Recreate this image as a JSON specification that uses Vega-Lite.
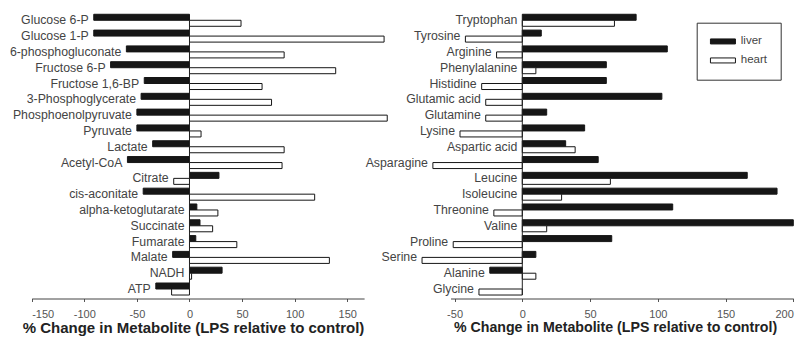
{
  "$schema": "https://vega.github.io/schema/vega-lite/v6.json",
  "width": 803,
  "height": 298.5,
  "autosize": {"type": "none"},
  "padding": {"left": 0, "top": 0, "right": 0, "bottom": 39.5},
  "background": "white",
  "config": {
    "view": {"stroke": null},
    "font": "Liberation Sans",
    "axis": {
      "grid": false,
      "domainColor": "#444",
      "tickColor": "#555",
      "tickSize": 3,
      "labelFont": "Liberation Sans",
      "labelFontSize": 11,
      "labelColor": "#555",
      "labelPadding": 7,
      "labelExpr": "replace(datum.label, '\u2212', '-')",
      "titleFont": "Liberation Sans",
      "titleFontWeight": "bold",
      "titleColor": "#222",
      "titlePadding": 1
    }
  },
  "datasets": {
    "central_metabolism": [
      {"metabolite": "Glucose 6-P", "tissue": "liver", "change": -91},
      {"metabolite": "Glucose 6-P", "tissue": "heart", "change": 49},
      {"metabolite": "Glucose 1-P", "tissue": "liver", "change": -91},
      {"metabolite": "Glucose 1-P", "tissue": "heart", "change": 185},
      {"metabolite": "6-phosphogluconate", "tissue": "liver", "change": -60},
      {"metabolite": "6-phosphogluconate", "tissue": "heart", "change": 90},
      {"metabolite": "Fructose 6-P", "tissue": "liver", "change": -75},
      {"metabolite": "Fructose 6-P", "tissue": "heart", "change": 139},
      {"metabolite": "Fructose 1,6-BP", "tissue": "liver", "change": -43},
      {"metabolite": "Fructose 1,6-BP", "tissue": "heart", "change": 69},
      {"metabolite": "3-Phosphoglycerate", "tissue": "liver", "change": -46},
      {"metabolite": "3-Phosphoglycerate", "tissue": "heart", "change": 78},
      {"metabolite": "Phosphoenolpyruvate", "tissue": "liver", "change": -50},
      {"metabolite": "Phosphoenolpyruvate", "tissue": "heart", "change": 188},
      {"metabolite": "Pyruvate", "tissue": "liver", "change": -50},
      {"metabolite": "Pyruvate", "tissue": "heart", "change": 11},
      {"metabolite": "Lactate", "tissue": "liver", "change": -35},
      {"metabolite": "Lactate", "tissue": "heart", "change": 90},
      {"metabolite": "Acetyl-CoA", "tissue": "liver", "change": -59},
      {"metabolite": "Acetyl-CoA", "tissue": "heart", "change": 88},
      {"metabolite": "Citrate", "tissue": "liver", "change": 28},
      {"metabolite": "Citrate", "tissue": "heart", "change": -15},
      {"metabolite": "cis-aconitate", "tissue": "liver", "change": -44},
      {"metabolite": "cis-aconitate", "tissue": "heart", "change": 119},
      {"metabolite": "alpha-ketoglutarate", "tissue": "liver", "change": 7},
      {"metabolite": "alpha-ketoglutarate", "tissue": "heart", "change": 27},
      {"metabolite": "Succinate", "tissue": "liver", "change": 10},
      {"metabolite": "Succinate", "tissue": "heart", "change": 22},
      {"metabolite": "Fumarate", "tissue": "liver", "change": 6},
      {"metabolite": "Fumarate", "tissue": "heart", "change": 45},
      {"metabolite": "Malate", "tissue": "liver", "change": -16},
      {"metabolite": "Malate", "tissue": "heart", "change": 133},
      {"metabolite": "NADH", "tissue": "liver", "change": 31},
      {"metabolite": "NADH", "tissue": "heart", "change": 2},
      {"metabolite": "ATP", "tissue": "liver", "change": -32},
      {"metabolite": "ATP", "tissue": "heart", "change": -17}
    ],
    "amino_acids": [
      {"metabolite": "Tryptophan", "tissue": "liver", "change": 84},
      {"metabolite": "Tryptophan", "tissue": "heart", "change": 68},
      {"metabolite": "Tyrosine", "tissue": "liver", "change": 14},
      {"metabolite": "Tyrosine", "tissue": "heart", "change": -42},
      {"metabolite": "Arginine", "tissue": "liver", "change": 107},
      {"metabolite": "Arginine", "tissue": "heart", "change": -19},
      {"metabolite": "Phenylalanine", "tissue": "liver", "change": 62},
      {"metabolite": "Phenylalanine", "tissue": "heart", "change": 10},
      {"metabolite": "Histidine", "tissue": "liver", "change": 62},
      {"metabolite": "Histidine", "tissue": "heart", "change": -30},
      {"metabolite": "Glutamic acid", "tissue": "liver", "change": 103},
      {"metabolite": "Glutamic acid", "tissue": "heart", "change": -27},
      {"metabolite": "Glutamine", "tissue": "liver", "change": 18},
      {"metabolite": "Glutamine", "tissue": "heart", "change": -27},
      {"metabolite": "Lysine", "tissue": "liver", "change": 46},
      {"metabolite": "Lysine", "tissue": "heart", "change": -46},
      {"metabolite": "Aspartic acid", "tissue": "liver", "change": 32},
      {"metabolite": "Aspartic acid", "tissue": "heart", "change": 39},
      {"metabolite": "Asparagine", "tissue": "liver", "change": 56},
      {"metabolite": "Asparagine", "tissue": "heart", "change": -66},
      {"metabolite": "Leucine", "tissue": "liver", "change": 166},
      {"metabolite": "Leucine", "tissue": "heart", "change": 65},
      {"metabolite": "Isoleucine", "tissue": "liver", "change": 188},
      {"metabolite": "Isoleucine", "tissue": "heart", "change": 29},
      {"metabolite": "Threonine", "tissue": "liver", "change": 111},
      {"metabolite": "Threonine", "tissue": "heart", "change": -21},
      {"metabolite": "Valine", "tissue": "liver", "change": 200},
      {"metabolite": "Valine", "tissue": "heart", "change": 18},
      {"metabolite": "Proline", "tissue": "liver", "change": 66},
      {"metabolite": "Proline", "tissue": "heart", "change": -51},
      {"metabolite": "Serine", "tissue": "liver", "change": 10},
      {"metabolite": "Serine", "tissue": "heart", "change": -74},
      {"metabolite": "Alanine", "tissue": "liver", "change": -24},
      {"metabolite": "Alanine", "tissue": "heart", "change": 10},
      {"metabolite": "Glycine", "tissue": "heart", "change": -32}
    ]
  },
  "layer": [
    {
      "data": {"name": "central_metabolism"},
      "layer": [
        {
          "mark": {"type": "bar", "stroke": "#161616", "strokeWidth": 1},
          "encoding": {
            "y": {
              "field": "metabolite",
              "type": "nominal",
              "scale": {
                "domain": ["Glucose 6-P", "Glucose 1-P", "6-phosphogluconate", "Fructose 6-P", "Fructose 1,6-BP", "3-Phosphoglycerate", "Phosphoenolpyruvate", "Pyruvate", "Lactate", "Acetyl-CoA", "Citrate", "cis-aconitate", "alpha-ketoglutarate", "Succinate", "Fumarate", "Malate", "NADH", "ATP"],
                "range": [10.8, 298.5],
                "paddingInner": 0.24,
                "paddingOuter": 0.22
              },
              "axis": null
            },
            "yOffset": {"field": "tissue", "type": "nominal", "scale": {"domain": ["liver", "heart"], "paddingInner": 0, "paddingOuter": 0}},
            "x": {
              "field": "change",
              "type": "quantitative",
              "title": "% Change in Metabolite (LPS relative to control)",
              "scale": {"domain": [-150, 166], "range": [31.7, 364.1], "nice": false, "zero": false},
              "axis": {"values": [-150, -100, -50, 0, 50, 100, 150], "titleFontSize": 15, "titleX": 193}
            },
            "fill": {
              "field": "tissue",
              "type": "nominal",
              "scale": {"domain": ["liver", "heart"], "range": ["#161616", "#ffffff"]}
            }
          }
        },
        {
          "transform": [
            {"aggregate": [{"op": "min", "field": "change", "as": "lo"}], "groupby": ["metabolite"]},
            {"filter": "datum.lo < 0"}
          ],
          "mark": {"type": "text", "align": "right", "baseline": "middle", "dx": -5, "fontSize": 12.3, "color": "#444"},
          "encoding": {
            "y": {"field": "metabolite", "type": "nominal"},
            "x": {"field": "lo", "type": "quantitative", "title": "% Change in Metabolite (LPS relative to control)"},
            "text": {"field": "metabolite"}
          }
        },
        {
          "transform": [
            {"aggregate": [{"op": "min", "field": "change", "as": "lo"}], "groupby": ["metabolite"]},
            {"filter": "datum.lo >= 0"}
          ],
          "mark": {"type": "text", "align": "right", "baseline": "middle", "dx": -5, "fontSize": 12.3, "color": "#444"},
          "encoding": {
            "y": {"field": "metabolite", "type": "nominal"},
            "x": {"datum": 0},
            "text": {"field": "metabolite"}
          }
        },
        {
          "transform": [{"aggregate": [{"op": "count", "as": "n"}]}],
          "mark": {"type": "rule", "color": "#222", "strokeWidth": 1},
          "encoding": {
            "x": {"datum": 0},
            "y": {"datum": "ATP", "type": "nominal", "bandPosition": 1},
            "y2": {"datum": "Glucose 6-P"}
          }
        }
      ]
    },
    {
      "data": {"name": "amino_acids"},
      "layer": [
        {
          "mark": {"type": "bar", "stroke": "#161616", "strokeWidth": 1},
          "encoding": {
            "y": {
              "field": "metabolite",
              "type": "nominal",
              "scale": {
                "domain": ["Tryptophan", "Tyrosine", "Arginine", "Phenylalanine", "Histidine", "Glutamic acid", "Glutamine", "Lysine", "Aspartic acid", "Asparagine", "Leucine", "Isoleucine", "Threonine", "Valine", "Proline", "Serine", "Alanine", "Glycine"],
                "range": [10.8, 298.5],
                "paddingInner": 0.24,
                "paddingOuter": 0.22
              },
              "axis": null
            },
            "yOffset": {"field": "tissue", "type": "nominal", "scale": {"domain": ["liver", "heart"], "paddingInner": 0, "paddingOuter": 0}},
            "x": {
              "field": "change",
              "type": "quantitative",
              "title": "% Change in Metabolite (LPS relative to control)",
              "scale": {"domain": [-53, 200], "range": [450.5, 793.3], "nice": false, "zero": false},
              "axis": {"orient": "bottom", "values": [-50, 0, 50, 100, 150, 200], "titleFontSize": 14.2, "titleX": 615}
            },
            "fill": {
              "field": "tissue",
              "type": "nominal",
              "scale": {"domain": ["liver", "heart"], "range": ["#161616", "#ffffff"]},
              "legend": {
                "orient": "none",
                "legendX": 696.7,
                "legendY": 22.7,
                "title": null,
                "symbolType": "M-1,-0.5H4V0.5H-1Z",
                "symbolSize": 100,
                "symbolStrokeColor": "#161616",
                "symbolStrokeWidth": 1,
                "labelFont": "Liberation Sans",
                "labelFontSize": 11.5,
                "labelColor": "#444",
                "labelOffset": 19.6,
                "rowPadding": 6,
                "padding": 13,
                "strokeColor": "#333",
                "fillColor": "#ffffff",
                "cornerRadius": 0
              }
            }
          }
        },
        {
          "transform": [
            {"aggregate": [{"op": "min", "field": "change", "as": "lo"}], "groupby": ["metabolite"]},
            {"filter": "datum.lo < 0"}
          ],
          "mark": {"type": "text", "align": "right", "baseline": "middle", "dx": -5, "fontSize": 12.3, "color": "#444"},
          "encoding": {
            "y": {"field": "metabolite", "type": "nominal"},
            "x": {"field": "lo", "type": "quantitative", "title": "% Change in Metabolite (LPS relative to control)"},
            "text": {"field": "metabolite"}
          }
        },
        {
          "transform": [
            {"aggregate": [{"op": "min", "field": "change", "as": "lo"}], "groupby": ["metabolite"]},
            {"filter": "datum.lo >= 0"}
          ],
          "mark": {"type": "text", "align": "right", "baseline": "middle", "dx": -5, "fontSize": 12.3, "color": "#444"},
          "encoding": {
            "y": {"field": "metabolite", "type": "nominal"},
            "x": {"datum": 0},
            "text": {"field": "metabolite"}
          }
        },
        {
          "transform": [{"aggregate": [{"op": "count", "as": "n"}]}],
          "mark": {"type": "rule", "color": "#222", "strokeWidth": 1},
          "encoding": {
            "x": {"datum": 0},
            "y": {"datum": "Glycine", "type": "nominal", "bandPosition": 1},
            "y2": {"datum": "Tryptophan"}
          }
        }
      ]
    }
  ],
  "resolve": {"scale": {"x": "independent", "y": "independent", "yOffset": "independent"}}
}
